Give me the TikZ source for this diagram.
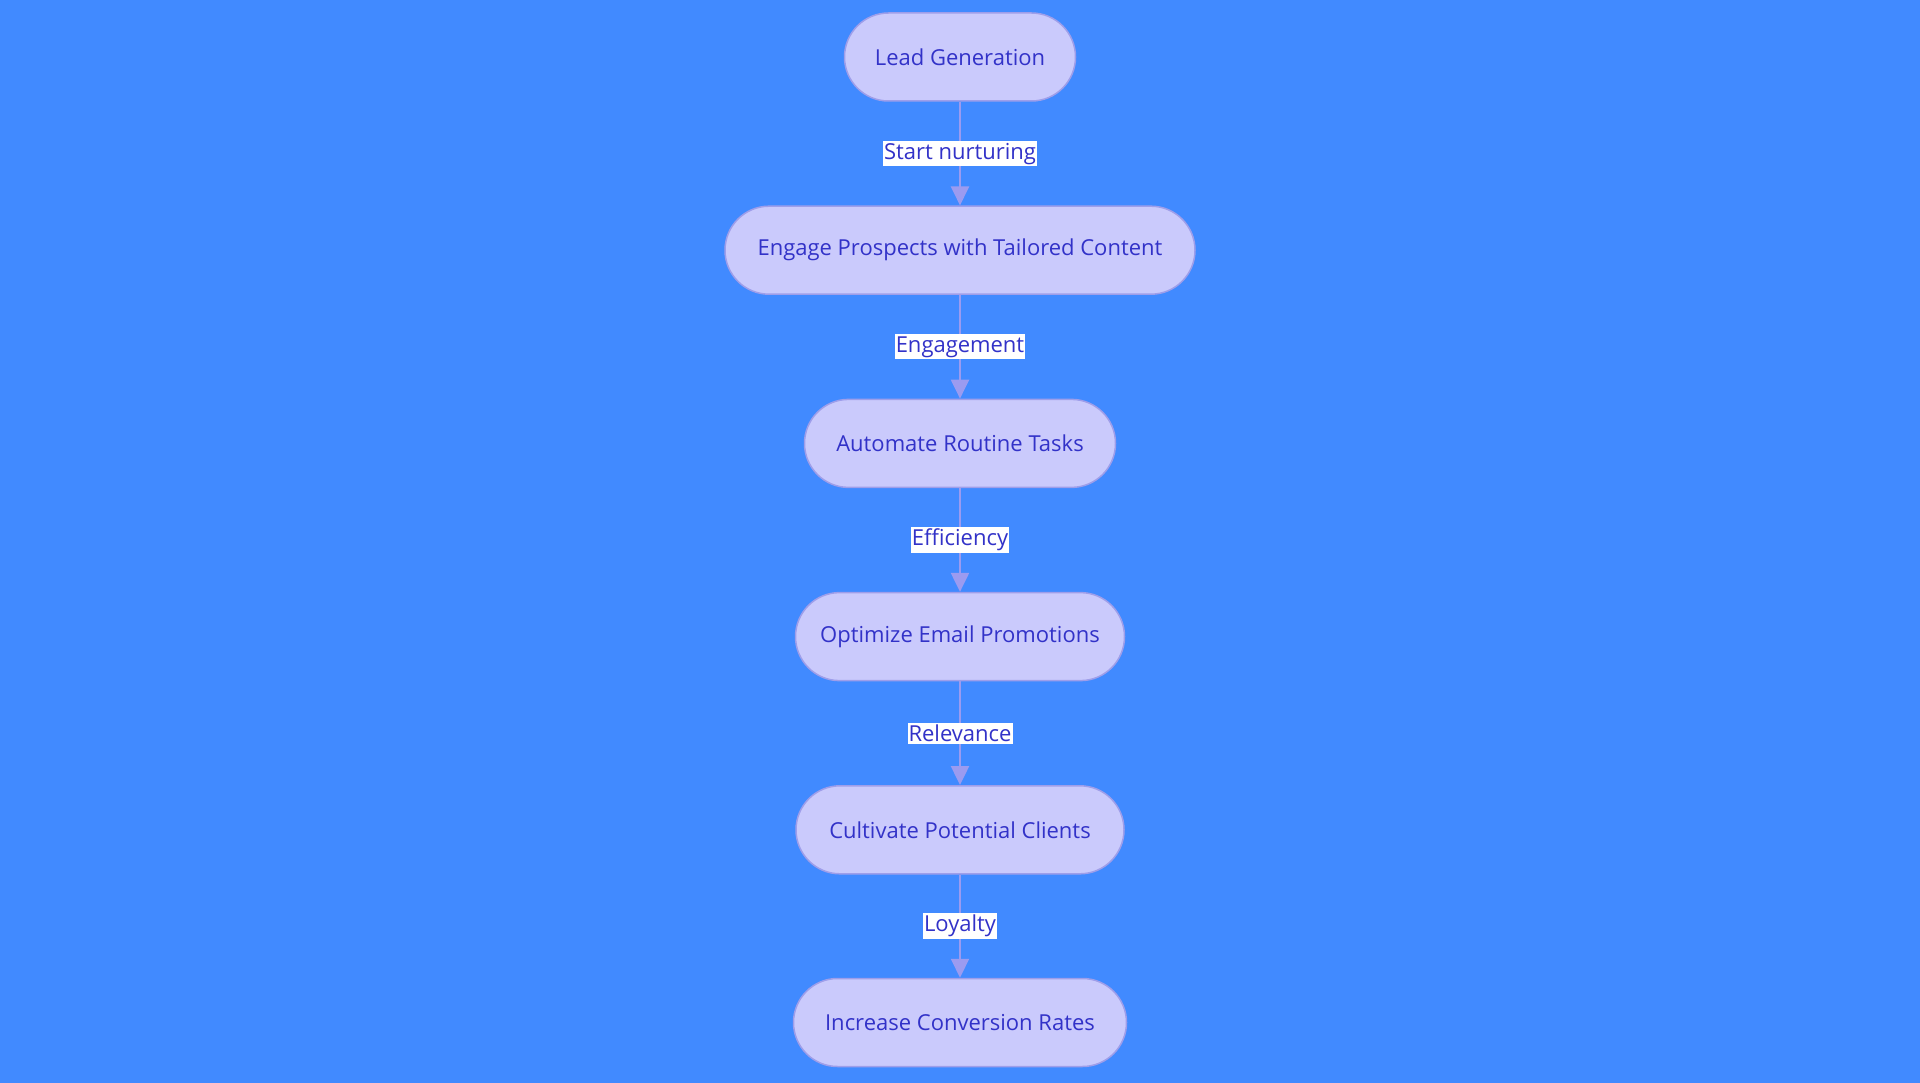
\documentclass[tikz,border=0pt]{standalone}
\usepackage{fontspec}
\setmainfont{Open Sans}
\usetikzlibrary{arrows.meta}
\definecolor{bg}{RGB}{65,138,255}
\definecolor{nodefill}{RGB}{202,202,252}
\definecolor{nodeborder}{RGB}{158,158,234}
\definecolor{txt}{RGB}{50,50,200}
\definecolor{edge}{RGB}{155,155,240}
\tikzset{
  stepbox/.style={draw=nodeborder, line width=1.5pt, fill=nodefill, rounded corners=44pt,
    minimum height=88pt, inner sep=0pt, text=txt, font=\fontsize{22}{26}\selectfont},
  flow/.style={draw=edge, line width=2.2pt, -{Triangle[width=18pt,length=19pt]}},
  elabel/.style={fill=white, text=txt, inner xsep=1pt, inner ysep=2pt, font=\fontsize{22}{26}\selectfont}
}
\begin{document}
\begin{tikzpicture}[x=1pt,y=-1pt]
\fill[bg] (0,0) rectangle (1920,1083);
\useasboundingbox (0,0) rectangle (1920,1083);
\node[stepbox, minimum width=231pt] (n1) at (960,57) {Lead Generation};
\node[stepbox, minimum width=470pt] (n2) at (960,250.2) {Engage Prospects with Tailored Content};
\node[stepbox, minimum width=311pt] (n3) at (960,443.4) {Automate Routine Tasks};
\node[stepbox, minimum width=329pt] (n4) at (960,636.6) {Optimize Email Promotions};
\node[stepbox, minimum width=328pt] (n5) at (960,829.8) {Cultivate Potential Clients};
\node[stepbox, minimum width=333pt] (n6) at (960,1022.5) {Increase Conversion Rates};
\draw[flow] (n1) -- node[elabel] {Start nurturing} (n2);
\draw[flow] (n2) -- node[elabel] {Engagement} (n3);
\draw[flow] (n3) -- node[elabel] {Efficiency} (n4);
\draw[flow] (n4) -- node[elabel] {Relevance} (n5);
\draw[flow] (n5) -- node[elabel] {Loyalty} (n6);
\end{tikzpicture}
\end{document}
